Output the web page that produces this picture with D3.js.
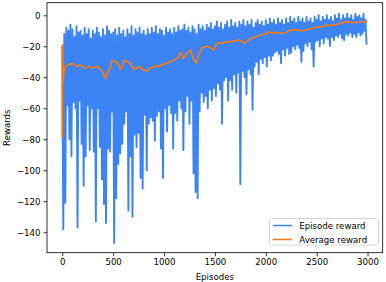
<!DOCTYPE html>
<html><head><meta charset="utf-8">
<script src="https://cdn.jsdelivr.net/npm/d3@7"></script>
<style>html,body{margin:0;padding:0;background:#fff;}svg{display:block;font-family:"DejaVu Sans",sans-serif;}</style>
</head><body>
<script>
// Episode reward, one value per 10 episodes (0..2990)
const episodeReward = [
 -20,-138,-12,-121,-8,-58,-10,-80,-6,-91,
 -9,-56,-14,-60,-7,-137,-11,-55,-10,-83,
 -13,-110,-8,-91,-12,-58,-9,-87,-15,-60,
 -10,-88,-12,-133,-8,-60,-11,-85,-14,-106,
 -9,-122,-13,-134,-7,-86,-10,-88,-12,-62,
 -11,-147,-9,-118,-13,-96,-8,-89,-12,-83,
 -10,-70,-14,-62,-9,-126,-12,-91,-7,-130,
 -13,-77,-9,-85,-11,-76,-8,-105,-12,-112,
 -10,-64,-13,-100,-9,-70,-12,-66,-8,-68,
 -11,-81,-7,-65,-12,-62,-9,-86,-10,-105,
 -13,-60,-8,-75,-11,-58,-9,-63,-12,-86,
 -8,-63,-11,-68,-7,-55,-10,-60,-9,-87,
 -6,-62,-10,-52,-8,-70,-11,-55,-7,-102,
 -9,-114,-12,-118,-6,-62,-9,-50,-7,-56,
 -10,-52,-6,-60,-8,-48,-5,-55,-9,-47,
 -7,-52,-4,-44,-8,-48,-5,-70,-9,-42,
 -6,-40,-4,-55,-8,-42,-3,-48,-7,-38,
 -5,-50,-8,-37,-4,-109,-6,-36,-3,-40,
 -7,-51,-4,-35,-6,-38,-3,-61,-8,-33,
 -5,-30,-3,-38,-6,-28,-4,-31,-7,-27,
 -3,-33,-6,-26,-2,-29,-5,-26,-3,-24,
 -6,-23,-2,-25,-5,-31,-3,-22,-6,-26,
 -2,-21,-5,-25,-1,-24,-4,-20,-2,-22,
 -5,-19,-1,-21,-4,-30,-2,-23,-5,-18,
 -1,-20,-4,-17,-2,-22,-5,-33,-1,-17,
 -3,-16,0,-20,-4,-15,-1,-18,-3,-14,
 0,-15,-3,-20,-1,-14,-4,-16,0,-13,
 -2,-14,1,-12,-3,-15,0,-16,-2,-12,
 1,-13,-2,-11,0,-14,-3,-12,1,-14,
 -1,-11,0,-13,-2,-12,1,-10,-3,-19
];
const rewardStep = 10;

// Average reward, read at selected episodes
const avgEpisodes = [0,3,8,15,30,60,100,140,180,220,260,300,340,380,410,425,445,465,490,520,545,570,590,610,640,670,705,730,760,790,826,860,900,940,980,1020,1060,1100,1140,1160,1190,1220,1260,1290,1318,1340,1370,1420,1460,1490,1520,1570,1620,1680,1720,1760,1790,1850,1900,1950,2000,2030,2070,2110,2150,2195,2230,2293,2340,2392,2440,2490,2540,2590,2640,2690,2740,2785,2840,2884,2930,2960,2999];
const avgValues   = [-79,-19,-43,-37,-33,-32,-31,-33,-32,-34,-33,-34,-33,-35,-38,-41,-37,-35,-29,-30,-31,-35,-33,-29,-30,-31,-35,-34,-33,-35,-36,-34,-33,-33,-32,-31,-30,-29,-27,-24,-28,-25,-22.5,-28,-31,-26,-21,-20,-21,-22.5,-18,-18,-17,-17,-16,-16.5,-18,-15,-14,-12.7,-12,-10.6,-11.6,-11,-11.6,-11.5,-9.5,-9.5,-10,-9.5,-8.5,-7.7,-7.5,-6.3,-6.5,-6,-5,-4.1,-4.5,-4.8,-4,-4.3,-4.1];

const xTicks = [0,500,1000,1500,2000,2500,3000];
const yTicks = [0,-20,-40,-60,-80,-100,-120,-140];
const seriesNames = ["Episode reward","Average reward"];
const seriesColors = ["#3c84f5","#f57a14"];

const W=386,H=282;
const svg=d3.select("body").append("svg").attr("width",W).attr("height",H);
const x=d3.scaleLinear().domain([-149.95,3148.95]).range([47,382.7]);
const y=d3.scaleLinear().domain([-153.2,8.14]).range([252.7,2.7]);

svg.append("clipPath").attr("id","c").append("rect")
 .attr("x",47).attr("y",2.7).attr("width",335.7).attr("height",250);

const rewardData=episodeReward.map((v,i)=>[i*rewardStep,v]);
const avgData=avgEpisodes.map((e,i)=>[e,avgValues[i]]);
const line=d3.line().x(d=>x(d[0])).y(d=>y(d[1]));

const g=svg.append("g").attr("clip-path","url(#c)");
g.append("path").datum(rewardData).attr("d",line).attr("fill","none")
 .attr("stroke",seriesColors[0]).attr("stroke-width",1.9).attr("stroke-linejoin","round");
g.append("path").datum(avgData).attr("d",line).attr("fill","none")
 .attr("stroke",seriesColors[1]).attr("stroke-width",1.7).attr("stroke-linejoin","round");

const fs="8.6px";
const xAxis=svg.append("g").attr("transform","translate(0,252.7)")
 .call(d3.axisBottom(x).tickValues(xTicks).tickSize(3.5).tickPadding(3).tickFormat(d3.format("d")));
const yAxis=svg.append("g").attr("transform","translate(47,0)")
 .call(d3.axisLeft(y).tickValues(yTicks).tickSize(3.5).tickPadding(3)
   .tickFormat(d=>d<0?"\u2212"+Math.abs(d):String(d)));
[xAxis,yAxis].forEach(a=>{
 a.select(".domain").remove();
 a.selectAll("line").attr("stroke","#000").attr("stroke-width",0.8);
 a.selectAll("text").attr("fill","#000").style("font-size",fs).style("font-family","DejaVu Sans");
});
svg.append("rect").attr("x",47).attr("y",2.7).attr("width",335.7).attr("height",250)
 .attr("fill","none").attr("stroke","#000").attr("stroke-width",0.8);

svg.append("text").attr("x",214.8).attr("y",280).attr("text-anchor","middle")
 .style("font-size",fs).text("Episodes");
svg.append("text").attr("transform","translate(10,127.7) rotate(-90)").attr("text-anchor","middle")
 .style("font-size",fs).text("Rewards");

const lg=svg.append("g");
lg.append("rect").attr("x",269.5).attr("y",218.5).attr("width",109).attr("height",26.5)
 .attr("rx",2).attr("fill","#fff").attr("fill-opacity",0.8).attr("stroke","#ccc").attr("stroke-width",0.8);
seriesNames.forEach((n,i)=>{
 const yy=225.5+i*14;
 lg.append("line").attr("x1",272.7).attr("x2",292).attr("y1",yy).attr("y2",yy)
  .attr("stroke",seriesColors[i]).attr("stroke-width",1.5);
 lg.append("text").attr("x",299.3).attr("y",yy).attr("dy","0.35em").style("font-size",fs).text(n);
});
</script>
</body></html>
